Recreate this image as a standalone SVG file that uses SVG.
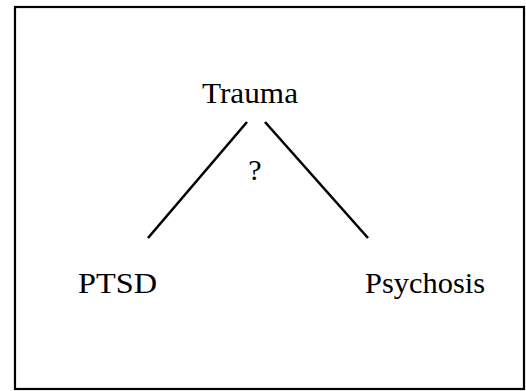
<svg xmlns="http://www.w3.org/2000/svg" width="526" height="391" viewBox="0 0 526 391">
<style>
.lbl{font-family:"Liberation Serif","Times New Roman",serif;font-size:30px;fill:#000;text-anchor:middle}
.edge{stroke:#000;stroke-width:2.6;fill:none;stroke-linecap:butt}
</style>
<rect x="0" y="0" width="526" height="391" fill="#fff"/>
<rect id="frame" x="15" y="7" width="509" height="382" fill="none" stroke="#000" stroke-width="2.2"/>
<g id="connectors">
<line class="edge" x1="247" y1="122" x2="148" y2="238"/>
<line class="edge" x1="265" y1="122" x2="368" y2="238"/>
</g>
<g id="node-trauma"><text class="lbl" x="250" y="103" textLength="96" lengthAdjust="spacingAndGlyphs">Trauma</text></g>
<g id="label-q"><text class="lbl" x="255" y="180">?</text></g>
<g id="node-ptsd"><text class="lbl" x="117.5" y="293" textLength="79" lengthAdjust="spacingAndGlyphs">PTSD</text></g>
<g id="node-psychosis"><text class="lbl" x="425" y="293" textLength="120" lengthAdjust="spacingAndGlyphs">Psychosis</text></g>
</svg>
